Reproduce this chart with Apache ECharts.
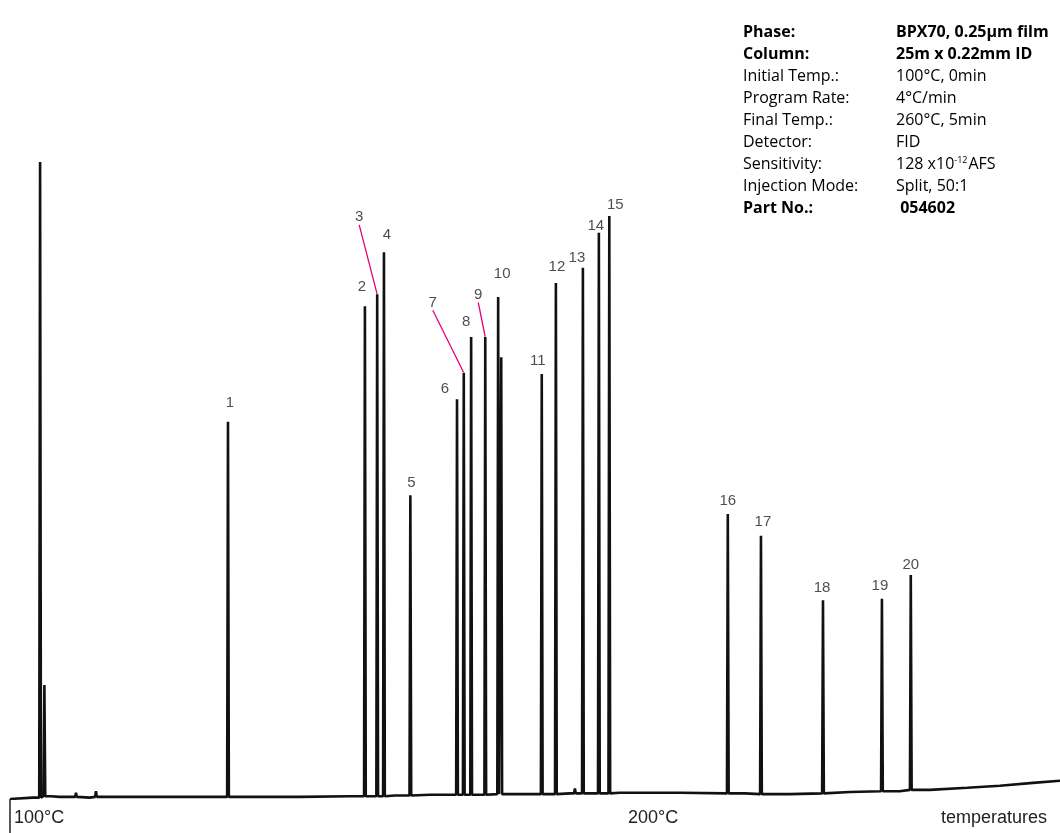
<!DOCTYPE html>
<html>
<head>
<meta charset="utf-8">
<script src="https://cdn.jsdelivr.net/npm/echarts@6/dist/echarts.min.js"></script>
<style>
html,body{margin:0;padding:0;background:#fff;}
#chart{width:1060px;height:833px;}
</style>
</head>
<body>
<div id="chart"></div>
<script>
// ---- data (x in °C, y in arbitrary detector units) ----
const peakLabels  = ['1','2','3','4','5','6','7','8','9','10','11','12','13','14','15','16','17','18','19','20'];
const peakTemps   = [135.5,157.8,159.8,160.9,165.2,172.8,173.9,175.1,177.4,179.5,186.6,188.9,193.3,195.9,197.6,216.9,222.3,232.4,242.0,246.7];
const peakHeights = [53.9,70.4,72.1,78.1,43.4,57.1,60.9,66.0,66.0,71.7,60.7,73.7,75.9,80.9,83.3,40.7,37.6,28.4,28.6,32.0];
const peakBases   = [0.3,0.4,0.4,0.4,0.5,0.6,0.6,0.6,0.6,0.7,0.7,0.7,0.8,0.8,0.8,0.8,0.7,0.8,1.1,1.3];

// unlabelled features: solvent peak, its shoulder, small bumps, peak-10 companion
const extraTemps   = [104.9,105.6,110.75,114.0,180.0,192.0];
const extraHeights = [91.0,16.3,0.9,1.1,63.1,1.5];
const extraBases   = [0.2,0.4,0.3,0.3,0.7,0.8];

// baseline drift of the trace
const baseTemps  = [100.0,103.7,106.6,108.1,113.0,119.5,130.9,140.7,147.2,155.4,162.7,168.4,183.1,191.2,199.3,209.1,219.7,227.0,236.8,244.9,249.8,255.9,261.2,266.6,271.0];
const baseValues = [0.0,0.2,0.4,0.3,0.2,0.3,0.3,0.3,0.3,0.4,0.5,0.6,0.7,0.8,0.9,0.9,0.8,0.7,1.0,1.1,1.3,1.6,1.9,2.3,2.6];

const axisLabelTemps = [100, 200];
const axisTickTemps  = [100];
const leaderLabels   = ['3','7','9'];

const infoKeys   = ['Phase:','Column:','Initial Temp.:','Program Rate:','Final Temp.:','Detector:','Sensitivity:','Injection Mode:','Part No.:'];
const infoValues = ['BPX70, 0.25µm film','25m x 0.22mm ID','100°C, 0min','4°C/min','260°C, 5min','FID','128 x10{sup|-12}AFS','Split, 50:1',' 054602'];
const infoBold   = [true,true,false,false,false,false,false,false,true];

// ---- build the trace from peaks + baseline ----
const HALF = 0.14; // half width of a peak foot (°C)
const pts = [];
baseTemps.forEach((t, i) => pts.push([t, baseValues[i]]));
function addPeak(t, h, b) {
  pts.push([t - HALF, b]);
  pts.push([t, h]);
  pts.push([t + HALF, b]);
}
peakTemps.forEach((t, i) => addPeak(t, peakHeights[i], peakBases[i]));
extraTemps.forEach((t, i) => addPeak(t, extraHeights[i], extraBases[i]));
pts.sort((a, b) => a[0] - b[0]);

// label nudges (px) relative to default 'top' placement
const labelShift = {
  '1':[2,-7],'2':[-3,-7],'3':[-18,-65],'4':[3,-5],'5':[1,0],'6':[-12,2],'7':[-31,-58],
  '8':[-5,-3],'9':[-7,-30],'10':[4,-11],'11':[-4,-1],'12':[1,-4],'13':[-6,2],'14':[-3,5],
  '15':[6,1],'16':[0,-1],'17':[2,-2],'18':[-1,0],'19':[-2,-1],'20':[0,2]
};

const labelData = peakTemps.map((t, i) => ({
  name: peakLabels[i],
  value: [t, peakHeights[i]],
  labelLine: { show: leaderLabels.indexOf(peakLabels[i]) >= 0 }
}));

const infoFont = '"Open Sans", "Noto Sans", sans-serif';
const keyText = infoKeys.map((k, i) => (infoBold[i] ? '{b|' + k + '}' : '{n|' + k + '}')).join('\n');
const valText = infoValues.map((v, i) => {
  const tag = infoBold[i] ? 'b' : 'n';
  if (v.indexOf('{sup|') >= 0) {
    const parts = v.split(/(\{sup\|[^}]*\})/);
    return parts.map(p => p.indexOf('{sup|') === 0 ? p : (p ? '{' + tag + '|' + p + '}' : '')).join('');
  }
  return '{' + tag + '|' + v + '}';
}).join('\n');
const richStyles = {
  b: { fontFamily: infoFont, fontSize: 16, fontWeight: 'bold', lineHeight: 22, color: '#231f20' },
  n: { fontFamily: infoFont, fontSize: 16, fontWeight: 'normal', lineHeight: 22, color: '#231f20' },
  sup: { fontFamily: infoFont, fontSize: 9, verticalAlign: 'top', padding: [3, 1, 0, 0], color: '#231f20' }
};

const chart = echarts.init(document.getElementById('chart'), null, { renderer: 'canvas' });
chart.setOption({
  animation: false,
  backgroundColor: '#ffffff',
  grid: { left: 10, right: 0, top: 99, bottom: 34, containLabel: false },
  xAxis: {
    type: 'value', min: 100, max: 271,
    axisLine: { show: false },
    splitLine: { show: false },
    axisTick: { show: true, customValues: axisTickTemps, length: 34, lineStyle: { color: '#222', width: 1.5 } },
    axisLabel: {
      show: true, customValues: axisLabelTemps, formatter: '{value}°C', align: 'left',
      padding: [0, 0, 0, 4], margin: 10, fontSize: 18, color: '#222',
      fontFamily: '"Liberation Sans", Arial, sans-serif'
    }
  },
  yAxis: { type: 'value', min: 0, max: 100, show: false },
  graphic: [
    { type: 'text', left: 743, top: 24, style: { text: keyText, rich: richStyles } },
    { type: 'text', left: 896, top: 24, style: { text: valText, rich: richStyles } },
    { type: 'text', right: 13, top: 809, style: { text: 'temperatures', fontSize: 18, fill: '#222', fontFamily: '"Liberation Sans", Arial, sans-serif' } }
  ],
  series: [
    {
      type: 'line', data: pts, showSymbol: false, silent: true,
      lineStyle: { color: '#111', width: 2.6, join: 'bevel' }, z: 2
    },
    {
      type: 'scatter', data: labelData, symbol: 'circle', symbolSize: 1,
      itemStyle: { color: 'rgba(0,0,0,0)' }, silent: true, z: 3,
      label: {
        show: true, position: 'top', distance: 4, formatter: '{b}',
        fontSize: 15, color: '#222', fontFamily: '"Liberation Sans", Arial, sans-serif'
      },
      labelLine: { show: false, lineStyle: { color: '#e6007e', width: 1.3 } },
      labelLayout: function (params) {
        const s = labelShift[peakLabels[params.dataIndex]] || [0, 0];
        return { dx: s[0], dy: s[1], hideOverlap: false };
      }
    }
  ]
});
</script>
</body>
</html>
